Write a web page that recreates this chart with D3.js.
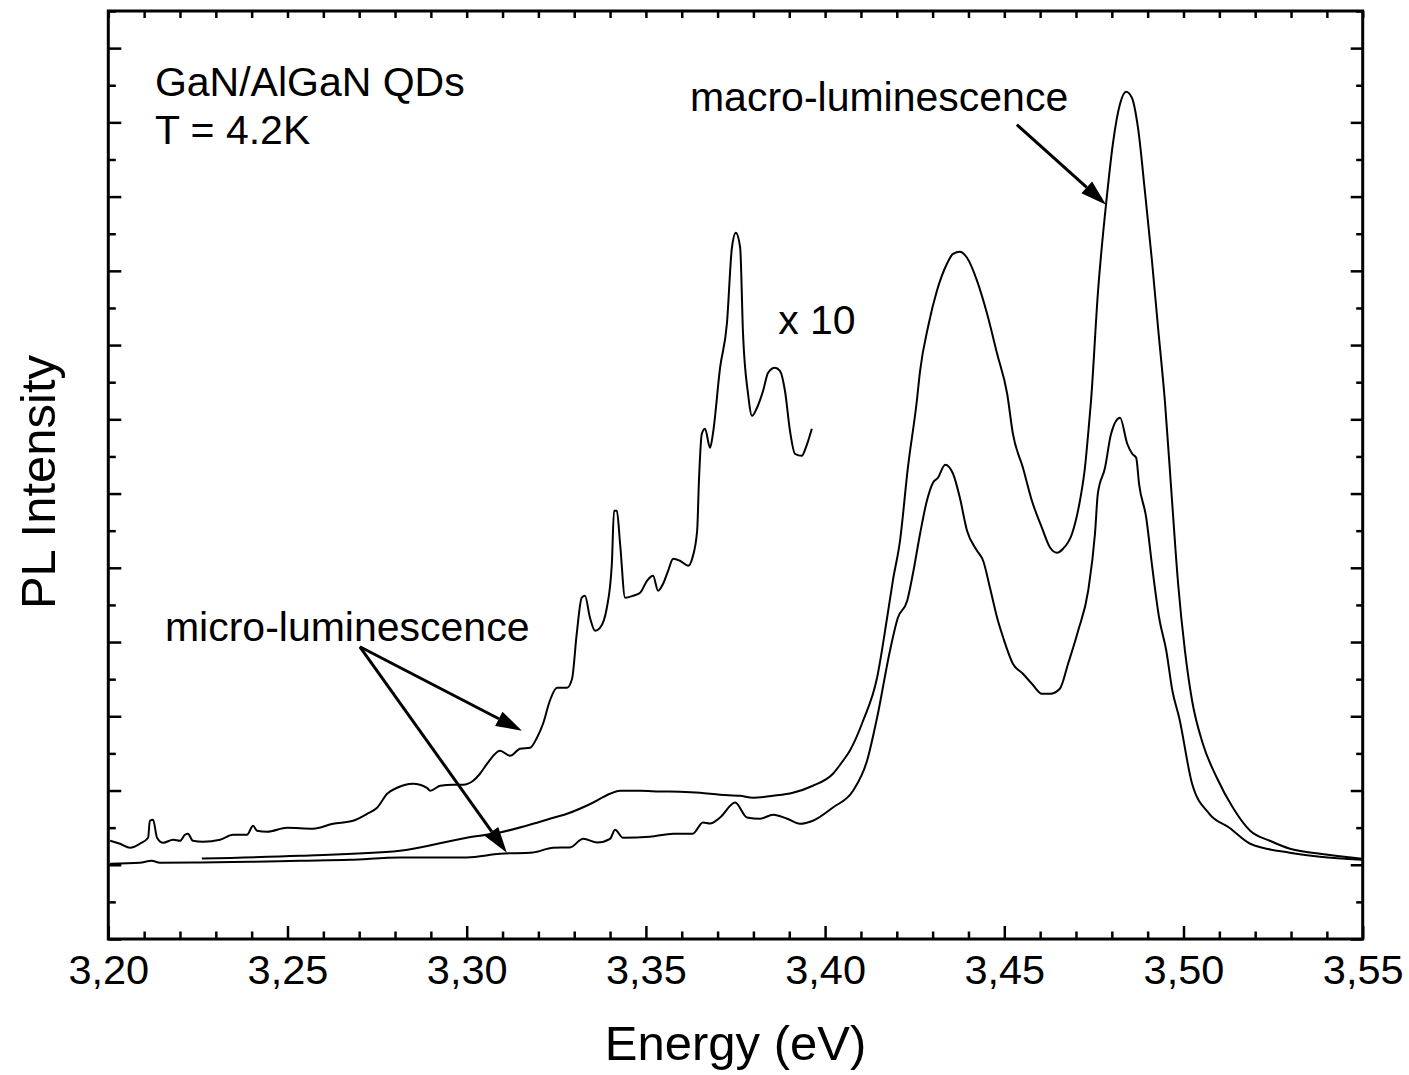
<!DOCTYPE html>
<html>
<head>
<meta charset="utf-8">
<script src="https://cdn.jsdelivr.net/npm/d3@7"></script>
<style>
  html, body { margin: 0; padding: 0; background: #fff; }
  svg { display: block; }
  text { font-family: "Liberation Sans", Arial, Helvetica, sans-serif; fill: #000; }
</style>
</head>
<body>
<svg id="chart" width="1409" height="1075"></svg>
<script>
// ---------- DATA ----------
// Macro-luminescence spectrum: [energy (eV), intensity (a.u.)]
const macroEnergy = [3.2261,3.2535,3.2814,3.3000,3.3093,3.3185,3.3232,3.3280,3.3352,3.3400,3.3428,3.3484,3.3539,3.3595,3.3651,3.3707,3.3763,3.3799,3.3855,3.3910,3.3966,3.4022,3.4050,3.4069,3.4106,3.4145,3.4173,3.4189,3.4209,3.4231,3.4256,3.4265,3.4287,3.4312,3.4340,3.4357,3.4376,3.4396,3.4424,3.4452,3.4480,3.4508,3.4524,3.4552,3.4577,3.4605,3.4628,3.4647,3.4664,3.4689,3.4711,3.4725,3.4734,3.4742,3.4761,3.4787,3.4803,3.4823,3.4840,3.4856,3.4873,3.4893,3.4912,3.4929,3.4948,3.4968,3.4985,3.5004,3.5024,3.5054,3.5093,3.5138,3.5186,3.5241,3.5297,3.5381,3.5498];
const macroIntensity = [0.085,0.121,0.189,0.364,0.435,0.552,0.620,0.687,0.835,0.956,0.997,0.997,0.987,0.983,0.970,0.943,0.929,0.902,0.929,0.970,1.064,1.226,1.401,1.536,1.940,2.519,3.327,3.825,4.364,5.348,6.250,6.654,7.240,7.731,8.095,8.230,8.257,8.176,7.866,7.422,6.883,6.344,5.806,5.348,4.903,4.539,4.270,4.203,4.257,4.459,4.903,5.348,5.806,6.250,7.692,9.039,9.712,10.251,10.413,10.332,9.928,9.039,8.136,7.234,6.250,4.903,3.785,2.883,2.209,1.630,1.172,0.768,0.458,0.323,0.216,0.148,0.081];

// Micro-luminescence spectrum
const microEnergy = [3.2005,3.2088,3.2121,3.2144,3.2256,3.2395,3.2535,3.2674,3.2814,3.3000,3.3093,3.3185,3.3241,3.3288,3.3325,3.3364,3.3400,3.3414,3.3436,3.3511,3.3576,3.3631,3.3659,3.3679,3.3707,3.3749,3.3782,3.3818,3.3855,3.3894,3.3930,3.3966,3.4022,3.4078,3.4117,3.4145,3.4181,3.4203,3.4229,3.4245,3.4265,3.4284,3.4301,3.4315,3.4335,3.4357,3.4376,3.4396,3.4424,3.4441,3.4460,3.4480,3.4497,3.4524,3.4552,3.4577,3.4605,3.4628,3.4655,3.4678,3.4706,3.4734,3.4753,3.4761,3.4781,3.4798,3.4823,3.4843,3.4857,3.4868,3.4876,3.4896,3.4913,3.4932,3.4952,3.4969,3.4988,3.5024,3.5072,3.5128,3.5186,3.5297,3.5381,3.5498];
const microIntensity = [0.013,0.027,0.054,0.027,0.031,0.040,0.054,0.067,0.098,0.098,0.148,0.166,0.229,0.233,0.350,0.300,0.350,0.471,0.364,0.377,0.418,0.418,0.570,0.556,0.637,0.839,0.637,0.620,0.674,0.620,0.552,0.593,0.772,0.997,1.401,1.980,2.883,3.327,3.556,3.920,4.459,4.903,5.146,5.213,5.388,5.267,4.943,4.499,4.230,4.095,3.731,3.327,3.058,2.708,2.573,2.438,2.303,2.303,2.371,2.708,3.152,3.691,4.459,4.998,5.348,5.806,6.021,5.671,5.536,5.482,5.132,4.674,4.001,3.327,2.883,2.344,1.980,1.091,0.687,0.498,0.283,0.162,0.108,0.067];

// Micro-luminescence magnified x10
const microX10Energy = [3.2005,3.2033,3.2061,3.2088,3.2111,3.2116,3.2125,3.2136,3.2153,3.2181,3.2200,3.2214,3.2222,3.2236,3.2264,3.2312,3.2348,3.2387,3.2404,3.2415,3.2443,3.2499,3.2571,3.2627,3.2683,3.2722,3.2750,3.2778,3.2806,3.2850,3.2889,3.2898,3.2926,3.2962,3.2990,3.3018,3.3037,3.3057,3.3093,3.3121,3.3149,3.3177,3.3196,3.3213,3.3232,3.3252,3.3280,3.3294,3.3307,3.3321,3.3330,3.3344,3.3358,3.3372,3.3391,3.3405,3.3411,3.3419,3.3428,3.3442,3.3464,3.3484,3.3503,3.3520,3.3534,3.3548,3.3562,3.3576,3.3595,3.3618,3.3629,3.3643,3.3648,3.3656,3.3665,3.3679,3.3687,3.3707,3.3726,3.3740,3.3751,3.3763,3.3771,3.3785,3.3796,3.3810,3.3827,3.3841,3.3860,3.3874,3.3888,3.3902,3.3916,3.3935,3.3946,3.3963];
const microX10Intensity = [0.323,0.283,0.229,0.283,0.364,0.593,0.606,0.364,0.296,0.337,0.323,0.404,0.418,0.323,0.310,0.337,0.404,0.404,0.525,0.458,0.445,0.498,0.485,0.552,0.593,0.687,0.768,0.956,1.037,1.091,1.037,0.997,1.064,1.078,1.078,1.131,1.226,1.361,1.536,1.468,1.563,1.576,1.711,1.899,2.209,2.384,2.384,2.505,3.112,3.597,3.623,3.327,3.152,3.192,3.462,4.054,4.768,4.768,4.324,3.597,3.623,3.664,3.825,3.893,3.691,3.785,3.960,4.122,4.095,4.028,4.122,4.499,5.172,5.806,5.873,5.617,5.806,6.695,7.287,8.311,8.513,8.311,7.153,6.344,6.048,6.156,6.385,6.627,6.695,6.654,6.385,5.846,5.536,5.509,5.617,5.873];

// Axis ticks
const energyTickValues = [3.20,3.25,3.30,3.35,3.40,3.45,3.50,3.55];
const energyTickLabels = ["3,20","3,25","3,30","3,35","3,40","3,45","3,50","3,55"];
const energyMinorTicks = d3.range(3.20, 3.5501, 0.01).map(v => +v.toFixed(2));
const intensityMajorTicks = d3.range(-1, 11.01, 1);
const intensityMinorTicks = d3.range(-0.5, 11.51, 1);

// Annotations (data coordinates)
const textLabels = [
  { text: "GaN/AlGaN QDs", e: 3.2130, i: 10.358 },
  { text: "T = 4.2K", e: 3.2130, i: 9.712 },
  { text: "macro-luminescence", e: 3.3623, i: 10.157 },
  { text: "x 10", e: 3.3869, i: 7.153 },
  { text: "micro-luminescence", e: 3.2158, i: 3.017 }
];
const arrows = [
  { e0: 3.4535, i0: 9.968, e1: 3.4784, i1: 8.890 },
  { e0: 3.2702, i0: 2.936, e1: 3.3154, i1: 1.805 },
  { e0: 3.2702, i0: 2.936, e1: 3.3112, i1: 0.162 }
];

(function () {
  // ---------- LAYOUT ----------
  const svg = d3.select("#chart");
  const mLeft = 108.3, mRight = 1362.7, mTop = 11, mBottom = 939;
  const x = d3.scaleLinear().domain([3.20, 3.55]).range([mLeft, mRight]);
  const y = d3.scaleLinear().domain([-1, 11.5]).range([mBottom, mTop]);

  const font = '"Liberation Sans", Arial, Helvetica, sans-serif';

  function styleAxis(g) {
    g.select(".domain").remove();
    g.selectAll(".tick line").attr("stroke", "#000").attr("stroke-width", 2.5);
  }
  const isMajorE = v => energyTickValues.some(m => Math.abs(m - v) < 1e-6);

  // bottom minor
  svg.append("g").attr("transform", `translate(0,${mBottom})`)
    .call(d3.axisBottom(x).tickValues(energyMinorTicks.filter(v => !isMajorE(v))).tickSizeInner(-7.5).tickSizeOuter(0).tickFormat(""))
    .call(styleAxis);
  // bottom major with labels
  svg.append("g").attr("transform", `translate(0,${mBottom})`)
    .call(d3.axisBottom(x).tickValues(energyTickValues).tickSizeInner(-13).tickSizeOuter(0).tickPadding(16)
      .tickFormat((d, i) => energyTickLabels[i]))
    .call(styleAxis)
    .call(g => g.selectAll(".tick text").attr("font-size", 41.5).attr("font-family", font).attr("fill", "#000"));
  // top ticks
  svg.append("g").attr("transform", `translate(0,${mTop})`)
    .call(d3.axisTop(x).tickValues(energyMinorTicks).tickSizeInner(-7).tickSizeOuter(0).tickFormat(""))
    .call(styleAxis);
  // left
  svg.append("g").attr("transform", `translate(${mLeft},0)`)
    .call(d3.axisLeft(y).tickValues(intensityMajorTicks).tickSizeInner(-13).tickSizeOuter(0).tickFormat(""))
    .call(styleAxis);
  svg.append("g").attr("transform", `translate(${mLeft},0)`)
    .call(d3.axisLeft(y).tickValues(intensityMinorTicks).tickSizeInner(-7.5).tickSizeOuter(0).tickFormat(""))
    .call(styleAxis);
  // right
  svg.append("g").attr("transform", `translate(${mRight},0)`)
    .call(d3.axisRight(y).tickValues(intensityMajorTicks).tickSizeInner(-12).tickSizeOuter(0).tickFormat(""))
    .call(styleAxis);
  svg.append("g").attr("transform", `translate(${mRight},0)`)
    .call(d3.axisRight(y).tickValues(intensityMinorTicks).tickSizeInner(-6.5).tickSizeOuter(0).tickFormat(""))
    .call(styleAxis);

  // Frame
  svg.append("rect")
    .attr("x", mLeft).attr("y", mTop)
    .attr("width", mRight - mLeft).attr("height", mBottom - mTop)
    .attr("fill", "none").attr("stroke", "#000").attr("stroke-width", 3);

  // Curves
  const line = d3.line().curve(d3.curveMonotoneX).x(d => x(d[0])).y(d => y(d[1]));
  const series = [
    d3.zip(macroEnergy, macroIntensity),
    d3.zip(microEnergy, microIntensity),
    d3.zip(microX10Energy, microX10Intensity)
  ];
  svg.append("g").selectAll("path").data(series).join("path")
    .attr("d", line)
    .attr("fill", "none").attr("stroke", "#000").attr("stroke-width", 2)
    .attr("stroke-linejoin", "round");

  // Arrows
  const ag = svg.append("g");
  arrows.forEach(a => {
    const x0 = x(a.e0), y0 = y(a.i0), x1 = x(a.e1), y1 = y(a.i1);
    const ang = Math.atan2(y1 - y0, x1 - x0);
    const hl = 26, hw = 8;
    const bx = x1 - hl * Math.cos(ang), by = y1 - hl * Math.sin(ang);
    ag.append("line").attr("x1", x0).attr("y1", y0).attr("x2", bx).attr("y2", by)
      .attr("stroke", "#000").attr("stroke-width", 3);
    const px = -Math.sin(ang), py = Math.cos(ang);
    ag.append("polygon")
      .attr("points", [[x1, y1], [bx + hw * px, by + hw * py], [bx - hw * px, by - hw * py]].map(p => p.join(",")).join(" "))
      .attr("fill", "#000");
  });

  // Text annotations
  svg.append("g").selectAll("text").data(textLabels).join("text")
    .attr("x", d => x(d.e)).attr("y", d => y(d.i))
    .attr("font-size", 41).attr("font-family", font)
    .text(d => d.text);

  // Axis titles
  svg.append("text")
    .attr("x", (mLeft + mRight) / 2).attr("y", 1060)
    .attr("text-anchor", "middle").attr("font-size", 49).attr("font-family", font)
    .text("Energy (eV)");
  svg.append("text")
    .attr("transform", `translate(55,482) rotate(-90)`)
    .attr("text-anchor", "middle").attr("font-size", 49).attr("font-family", font)
    .text("PL Intensity");
})();
</script>
</body>
</html>
